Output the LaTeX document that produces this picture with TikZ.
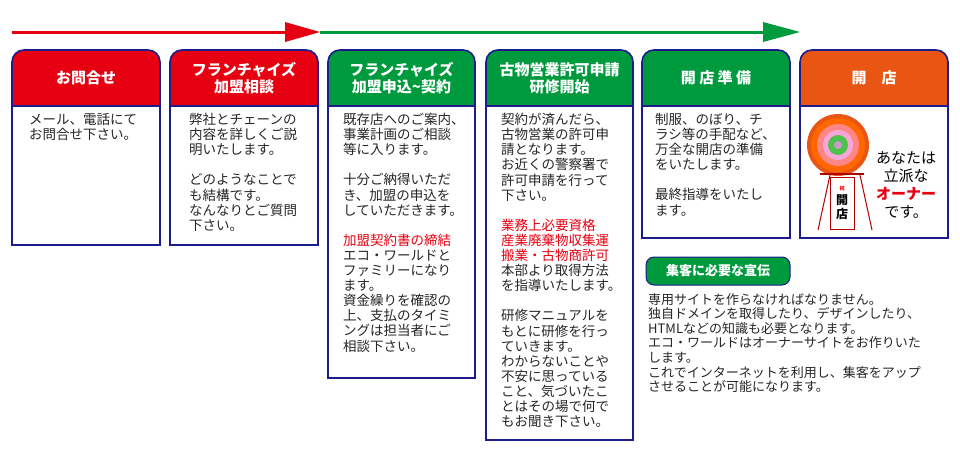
\documentclass[tikz,border=0pt]{standalone}
\usepackage{fontspec}
\setmainfont{Noto Sans CJK JP}
\usepackage{tikz}
\usetikzlibrary{positioning}
\definecolor{hred}{HTML}{E60012}
\definecolor{hgreen}{HTML}{009A3E}
\definecolor{horange}{HTML}{E95513}
\definecolor{navy}{HTML}{1C1C8C}
\tikzset{
  body/.style={anchor=north west,align=left,inner sep=0pt,font=\fontsize{13.5}{15.1}\selectfont,text=black!85},
  head/.style={align=center,text=white,font=\fontsize{15}{17}\selectfont\bfseries},
}
\newcommand{\stepbox}[6]{% x1 x2 bottom colour name title
  \fill[#4,rounded corners=12pt] (#1,50) rectangle (#2,106);
  \fill[#4] (#1,80) rectangle (#2,106);
  \draw[navy,line width=1.6pt,rounded corners=12pt] (#1,106) -- (#1,50) -- (#2,50) -- (#2,106);
  \draw[navy,line width=1.6pt] (#1,106) rectangle (#2,#3);
  \node[head] (#5) at ({(#1+#2)/2},78) {#6};
}
\begin{document}
\begin{tikzpicture}[x=1pt,y=-1pt]
\useasboundingbox[fill=white] (0,0) rectangle (960,453);
% flow arrows
\coordinate (r0) at (12,32); \coordinate (r1) at (320,32); \coordinate (g1) at (800,32);
\draw[hred,line width=3pt] (r0) -- (290,32);
\fill[hred] (285,22) -- (r1) -- (285,42) -- cycle;
\draw[hgreen,line width=3pt] (r1) -- (765,32);
\fill[hgreen] (763,22) -- (g1) -- (763,42) -- cycle;
% steps
\stepbox{12}{160}{245}{hred}{s1}{お問合せ}
\stepbox{170}{318}{245}{hred}{s2}{フランチャイズ\\加盟相談}
\stepbox{328}{475}{378}{hgreen}{s3}{フランチャイズ\\加盟申込\textasciitilde 契約}
\stepbox{486}{633}{440}{hgreen}{s4}{古物営業許可申請\\研修開始}
\stepbox{642}{790}{238}{hgreen}{s5}{開\ 店\ 準\ 備}
\stepbox{800}{948}{238}{horange}{s6}{開\quad 店}
\node[body] (t1) at (29,113) {メール、電話にて\\お問合せ下さい。};
\node[body] (t2) at (189,113) {弊社とチェーンの\\内容を詳しくご説\\明いたします。\\[15.1pt]どのようなことで\\も結構です。\\なんなりとご質問\\下さい。};
\node[body] (t3) at (343,113) {既存店へのご案内、\\事業計画のご相談\\等に入ります。\\[15.1pt]十分ご納得いただ\\き、加盟の申込を\\していただきます。\\[15.1pt]\textcolor{hred}{加盟契約書の締結}\\エコ・ワールドと\\ファミリーになり\\ます。\\資金繰りを確認の\\上、支払のタイミ\\ングは担当者にご\\相談下さい。};
\node[body] (t4) at (501,113) {契約が済んだら、\\古物営業の許可申\\請となります。\\お近くの警察署で\\許可申請を行って\\下さい。\\[15.1pt]\textcolor{hred}{業務上必要資格}\\\textcolor{hred}{産業廃棄物収集運}\\\textcolor{hred}{搬業・古物商許可}\\本部より取得方法\\を指導いたします。\\[15.1pt]研修マニュアルを\\もとに研修を行っ\\ていきます。\\わからないことや\\不安に思っている\\こと、気づいたこ\\とはその場で何で\\もお聞き下さい。};
\node[body] (t5) at (655,113) {制服、のぼり、チ\\ラシ等の手配など、\\万全な開店の準備\\をいたします。\\[15.1pt]最終指導をいたし\\ます。};
% wreath
\draw[red!70!black,line width=1pt] (830,175) -- (818,230) (860,175) -- (872,230);
\fill[horange] (838,145) circle (31);
\fill[orange!80!red] (838,145) circle (27);
\fill[pink!70!red] (838,145) circle (21);
\fill[magenta!35] (838,145) circle (15);
\fill[green!65!black!70] (838,145) circle (10);
\fill[violet!40] (838,145) circle (4);
\draw[red!70!black,line width=1.2pt] (820,174) -- (864,174);
\node[draw=red!70!black,line width=1pt,fill=white,minimum width=24pt,minimum height=52pt,align=center,font=\fontsize{12}{14}\selectfont\bfseries] (sign) at (842,203) {\textcolor{red}{\tiny 祝}\\開\\店};
\node[align=center,font=\fontsize{15}{18}\selectfont] (owner) at (906,185) {あなたは\\立派な\\\textcolor{hred}{\bfseries オーナー}\\です。};
% advertising
\node[fill=hgreen,text=white,rounded corners=8pt,draw=navy,line width=1pt,minimum width=144pt,minimum height=28pt,font=\fontsize{13}{15}\selectfont\bfseries] (ad) at (718,271) {集客に必要な宣伝};
\node[body,font=\fontsize{13}{14.6}\selectfont] (t6) at (648,293) {専用サイトを作らなければなりません。\\独自ドメインを取得したり、デザインしたり、\\HTMLなどの知識も必要となります。\\エコ・ワールドはオーナーサイトをお作りいた\\します。\\これでインターネットを利用し、集客をアップ\\させることが可能になります。};
\end{tikzpicture}
\end{document}
